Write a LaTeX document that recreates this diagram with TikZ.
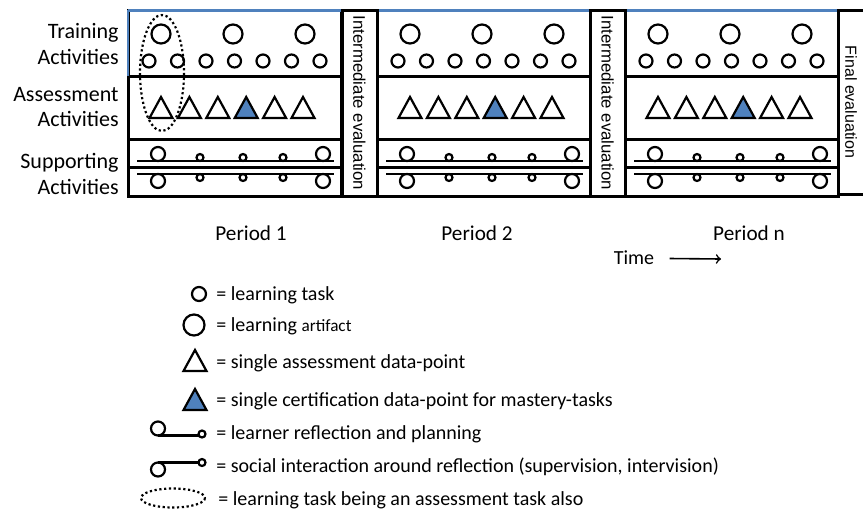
\documentclass[tikz,border=0pt]{standalone}
\usepackage{fontspec}
\setmainfont{Carlito}
\newfontfamily\evalfont{Liberation Sans}
\usepackage{xcolor}
\usetikzlibrary{calc}
\definecolor{certblue}{RGB}{79,129,189}
\tikzset{
  frame/.style={line width=1.5pt},
  task/.style={line width=1.1pt},
  rowlabel/.style={font=\fontsize{11}{12.6}\selectfont, align=right, anchor=east, inner sep=0pt},
  evallabel/.style={font=\evalfont\fontsize{8.4}{10}\selectfont, rotate=-90, inner sep=0pt},
  periodlabel/.style={font=\fontsize{10.6}{13}\selectfont, inner sep=0pt},
  plain/.style={font=\fontsize{10}{12}\selectfont, inner sep=0pt},
  legend/.style={font=\fontsize{10}{12}\selectfont, anchor=west, inner sep=0pt},
  overlap/.style={line width=1.1pt, dash pattern=on 1.1pt off 1.3pt},
}
\begin{document}
\begin{tikzpicture}[x=0.5pt,y=-0.5pt]
\useasboundingbox (0,0) rectangle (863,510);
% row labels
\node[rowlabel] (training) at (119,44) {Training\\Activities};
\node[rowlabel] (assessment) at (119,107) {Assessment\\Activities};
\node[rowlabel] (supporting) at (119,174) {Supporting\\Activities};
% periods
\foreach \x/\p/\c in {128/1/251,377/2/477,625/n/749}
{	\draw [frame] (\x,10) rectangle ++(213,186);
	\draw [frame] (\x,76)--++(213,0);
	\draw [frame] (\x,139)--++(213,0);
	\draw [frame] (\x,167)--++(213,0);
	\draw [line width=1.2pt, certblue] (\x,10.5)--++(213,0);
	\node[periodlabel] (period\p) at (\c,233) {Period \p};
	% training activities
	\foreach \i in {0,...,6}
	{	\draw [task] (\x+21+\i*28.5,61) circle (6.5);
	}
	\foreach \d in {33,105,177}
	{	\draw [task] (\x+\d,34) circle (9.5);
	}
	% assessment activities
	\foreach \i/\f in {0/white,1/white,2/white,3/certblue,4/white,5/white}
	{	\filldraw [task, fill=\f] (\x+21.5+\i*28.4,118)--++(11.5,-21)--++(11.5,21)--cycle;
	}
	% supporting activities
	\draw [task] (\x+9,161)--++(197,0);
	\draw [task] (\x+9,174)--++(197,0);
	\foreach \d in {30,195}
	{	\draw [task] (\x+\d,154) circle (7);
		\draw [task] (\x+\d,181) circle (7);
	}
	\foreach \d in {72,115,155}
	{	\draw [task] (\x+\d,157.5) circle (3.5);
		\draw [task] (\x+\d,177.5) circle (3.5);
	}
}
\draw [line width=1.2pt, certblue] (128,10)--(128,76);
% evaluations
\draw [frame] (342,10) rectangle (377,196);
\draw [frame] (590,10) rectangle (625,196);
\draw [frame] (863,10)--(838,10)--(838,194)--(863,194);
\node[evallabel] (eval1) at (359.5,103) {Intermediate evaluation};
\node[evallabel] (eval2) at (607.5,103) {Intermediate evaluation};
\node[evallabel, font=\evalfont\fontsize{8}{10}\selectfont] (final) at (851,102) {Final evaluation};
% learning task that is also an assessment task
\draw [overlap] (162,73) ellipse (22 and 58);
% time
\node[plain] (time) at (634,258) {Time};
\coordinate (timeend) at (721,259);
\draw [line width=0.8pt, ->] ($(time.east)+(15,0.5)$)--(timeend);
% legend
\draw [task] (199,294) circle (7);
\node[legend] (ltask) at (216,295) {= learning task};
\draw [task] (194,325) circle (10.5);
\node[legend] (lartifact) at (216,326) {= learning {\fontsize{8.6}{10}\selectfont artifact}};
\draw [task] (183.5,371)--++(11.5,-21)--++(11.5,21)--cycle;
\node[legend] (lassess) at (216,363) {= single assessment data-point};
\filldraw [task, fill=certblue] (183.5,410)--++(11.5,-21)--++(11.5,21)--cycle;
\node[legend] (lcert) at (216,401) {= single certification data-point for mastery-tasks};
\draw [task] (158,428.5) circle (7);
\draw [task] (158,435.5)--(198.5,435.5);
\draw [task] (202,434) circle (3.5);
\node[legend] (lreflect) at (216,434) {= learner reflection and planning};
\draw [task] (158,462.5)--(198.5,462.5);
\draw [task] (158,469.5) circle (7);
\draw [task] (202,462.5) circle (3.5);
\node[legend] (lsocial) at (216,467) {= social interaction around reflection (supervision, intervision)};
\draw [overlap] (173,498) ellipse (32 and 9.5);
\node[legend] (lboth) at (218,500) {= learning task being an assessment task also};
\end{tikzpicture}
\end{document}
